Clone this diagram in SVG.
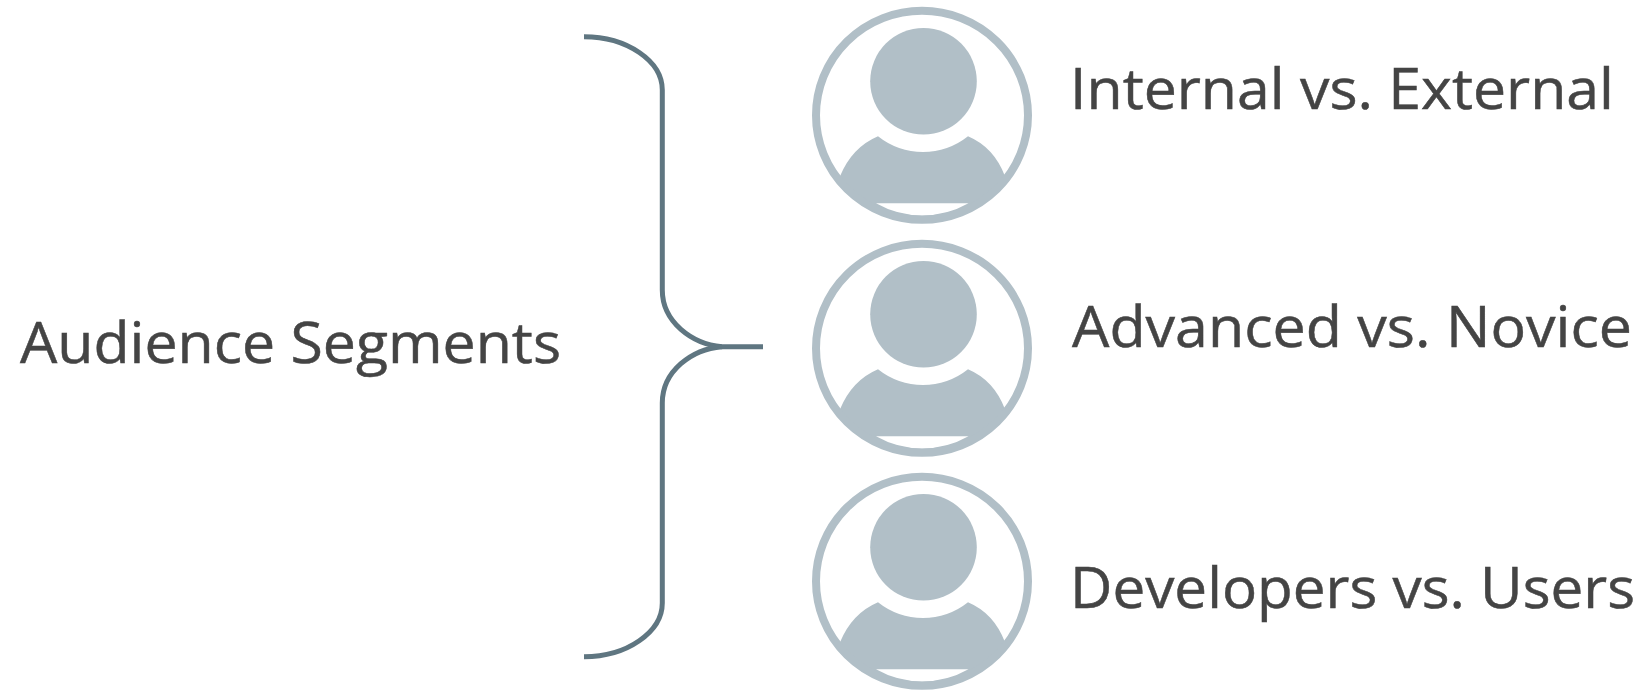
<svg xmlns="http://www.w3.org/2000/svg" width="1647" height="692" viewBox="0 0 1647 692">
<style>
text{font-family:"Open Sans","Noto Sans","Liberation Sans",sans-serif;font-size:56px;fill:#444;stroke:#444;stroke-width:.5}
.ring{fill:none;stroke:#b1bfc7;stroke-width:8}
.fig{fill:#b1bfc7}
.cut{fill:#fff}
.brace{fill:none;stroke:#5f7681;stroke-width:5}
</style>
<defs>
<g id="person">
<path class="fig" d="M-82 61Q-70 32 -44 21A72 72 0 0 0 46 21Q72 32 83 61L86 61A106 104.500 0 0 1 -86 61Z"/>
<path class="cut" d="M-46 88L46.500 88A94 94 0 0 1 -46 88Z"/>
<circle class="fig" cx="1.500" cy="-34" r="53.300"/>
<ellipse class="ring" rx="106" ry="104.500"/>
</g>
</defs>
<rect width="1647" height="692" fill="#fff"/>
<g id="connectors">
<path class="brace" d="M584 36.700C627 36.700 662.300 61 662.300 90L662.300 290C662.300 322 692 344 722 346.700L763 346.700"/>
<path class="brace" d="M584 656.700C627 656.700 662.300 632 662.300 603L662.300 403C662.300 371 692 349 722 346.700"/>
</g>
<g id="audience"><text x="20" y="363" textLength="541" lengthAdjust="spacingAndGlyphs">Audience Segments</text></g>
<g id="node1"><use href="#person" x="922" y="115.300"/><text x="1070" y="109" textLength="544" lengthAdjust="spacingAndGlyphs">Internal vs. External</text></g>
<g id="node2"><use href="#person" x="922" y="348.300"/><text x="1072" y="347" textLength="560" lengthAdjust="spacingAndGlyphs">Advanced vs. Novice</text></g>
<g id="node3"><use href="#person" x="922" y="581.300"/><text x="1070" y="608" textLength="565" lengthAdjust="spacingAndGlyphs">Developers vs. Users</text></g>
</svg>
